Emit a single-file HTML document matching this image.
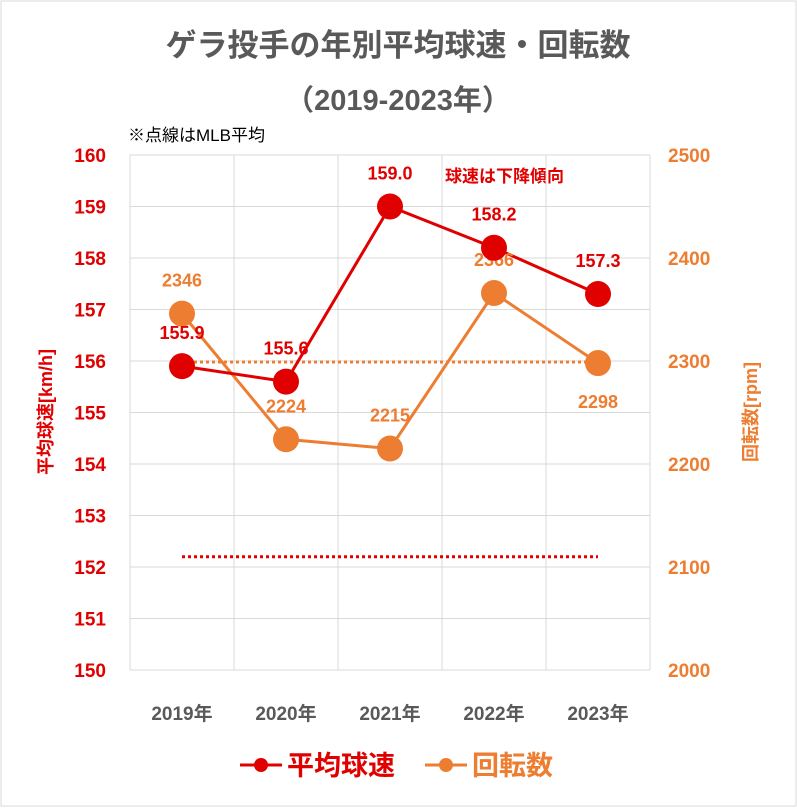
<!DOCTYPE html>
<html><head><meta charset="utf-8"><style>
body{margin:0;background:#fff;}
svg text{font-family:"Liberation Sans","Noto Sans CJK JP",sans-serif;font-weight:bold;}
</style></head><body>
<svg id="c" width="797" height="807">
<rect x="1" y="1" width="795" height="805" fill="#fff" stroke="#d9d9d9"/>
<text x="398" y="56" font-size="31" fill="#595959" text-anchor="middle">ゲラ投手の年別平均球速・回転数</text>
<text x="398" y="110" font-size="29" fill="#595959" text-anchor="middle">（2019-2023年）</text>
<text x="128" y="141" font-size="17" fill="#000" style="font-weight:normal">※点線はMLB平均</text>
<text x="445" y="182" font-size="17" fill="#e00000">球速は下降傾向</text>
<g id="grid"></g><g id="axes"></g><g id="marks"></g>
<text transform="translate(52,412) rotate(-90)" font-size="18" fill="#e00000" text-anchor="middle">平均球速[km/h]</text>
<text transform="translate(757,412) rotate(-90)" font-size="18" fill="#ed7d31" text-anchor="middle">回転数[rpm]</text>
<g>
<line x1="240" y1="765" x2="282" y2="765" stroke="#e00000" stroke-width="3"/><circle cx="261" cy="765" r="7" fill="#e00000"/>
<text x="287" y="775" font-size="27" fill="#e00000">平均球速</text>
<line x1="425" y1="765" x2="467" y2="765" stroke="#ed7d31" stroke-width="3"/><circle cx="446" cy="765" r="7" fill="#ed7d31"/>
<text x="472" y="775" font-size="27" fill="#ed7d31">回転数</text>
</g>
</svg>
<script>
const categories=["2019年","2020年","2021年","2022年","2023年"];
const speed=[155.9,155.6,159.0,158.2,157.3];
const spin=[2346,2224,2215,2366,2298];
const mlbSpeed=152.2;
const mlbSpin=2299;
const leftTicks=[150,151,152,153,154,155,156,157,158,159,160];
const rightTicks=[2000,2100,2200,2300,2400,2500];
const NS="http://www.w3.org/2000/svg";
const L=130,R=650,T=155,B=670;
const bw=(R-L)/categories.length;
const x=i=>L+bw*(i+0.5);
const yL=v=>B-(v-150)/10*(B-T);
const yR=v=>B-(v-2000)/500*(B-T);
function mk(p,tag,a,txt){const e=document.createElementNS(NS,tag);for(const k in a)e.setAttribute(k,a[k]);if(txt!=null)e.textContent=txt;document.getElementById(p).appendChild(e);return e;}
leftTicks.forEach(v=>{const e=mk("grid","line",{x1:L,x2:R,y1:yL(v),y2:yL(v),stroke:"#d9d9d9"});


const t=mk("axes","text",{x:106,y:yL(v)+7,"font-size":19,fill:"#e00000","text-anchor":"end"},v);

});
rightTicks.forEach(v=>{const t=mk("axes","text",{x:668,y:yR(v)+7,"font-size":19,fill:"#ed7d31"},v);

});
for(let i=0;i<=categories.length;i++){const e=mk("grid","line",{x1:L+bw*i,x2:L+bw*i,y1:T,y2:B,stroke:"#d9d9d9"});

}
categories.forEach((c,i)=>{const t=mk("axes","text",{x:x(i),y:720,"font-size":19,fill:"#595959","text-anchor":"middle"},c);

});
let e=mk("marks","line",{x1:x(0),x2:x(4),y1:yL(mlbSpeed),y2:yL(mlbSpeed),stroke:"#e00000","stroke-width":3,"stroke-dasharray":"3 3"});


e=mk("marks","line",{x1:x(0),x2:x(4),y1:yR(mlbSpin),y2:yR(mlbSpin),stroke:"#ed7d31","stroke-width":3,"stroke-dasharray":"3 3"});


e=mk("marks","polyline",{points:spin.map((v,i)=>x(i)+","+yR(v)).join(" "),fill:"none",stroke:"#ed7d31","stroke-width":3});


e=mk("marks","polyline",{points:speed.map((v,i)=>x(i)+","+yL(v)).join(" "),fill:"none",stroke:"#e00000","stroke-width":3});


spin.forEach((v,i)=>{const c=mk("marks","circle",{cx:x(i),cy:yR(v),r:13,fill:"#ed7d31"});


const above=(i!=4);
const t=mk("marks","text",{x:x(i),y:above?yR(v)-27:yR(v)+45,"font-size":18,fill:"#ed7d31","text-anchor":"middle"},v);

});
speed.forEach((v,i)=>{const c=mk("marks","circle",{cx:x(i),cy:yL(v),r:13,fill:"#e00000"});


const t=mk("marks","text",{x:x(i),y:yL(v)-27,"font-size":18,fill:"#e00000","text-anchor":"middle"},v.toFixed(1));

});
</script>
</body></html>
